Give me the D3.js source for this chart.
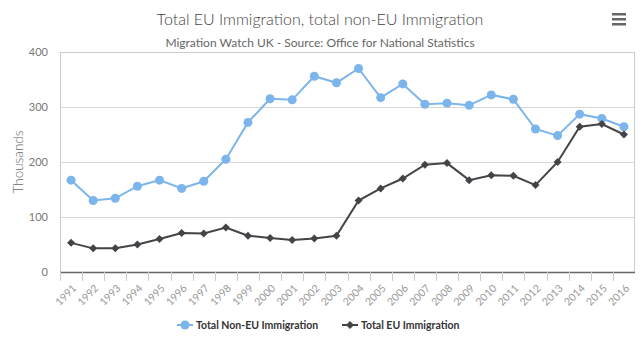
<!DOCTYPE html>
<html>
<head>
<meta charset="utf-8">
<script src="https://cdn.jsdelivr.net/npm/d3@7"></script>
<style>
  body { margin: 0; background: #fff; }
  svg { font-family: Lato, "Open Sans", sans-serif; }
</style>
</head>
<body>
<div id="chart"></div>
<script>
// data
var years = ["1991", "1992", "1993", "1994", "1995", "1996", "1997", "1998", "1999", "2000",
  "2001", "2002", "2003", "2004", "2005", "2006", "2007", "2008", "2009", "2010",
  "2011", "2012", "2013", "2014", "2015", "2016"];
var nonEu = [167, 130, 134, 156, 167, 152, 165, 205, 272, 315,
  313, 356, 344, 370, 317, 342, 305, 307, 303, 322,
  314, 260, 248, 287, 279, 264];
var eu = [53, 43, 43, 50, 60, 71, 70, 81, 66, 62,
  58, 61, 66, 130, 152, 170, 195, 198, 167, 176,
  175, 158, 200, 264, 269, 250];
var yTicks = [0, 100, 200, 300, 400];

var series = [
  { name: "Total Non-EU Immigration", values: nonEu, color: "#7cb5ec", symbol: d3.symbolCircle, size: 64, rot: 0 },
  { name: "Total EU Immigration", values: eu, color: "#434348", symbol: d3.symbolSquare, size: 32, rot: 45 }
];

var width = 640, height = 344;
var margin = { top: 52, right: 5, bottom: 72, left: 60 };
var w = width - margin.left - margin.right,
  h = height - margin.top - margin.bottom;

var svg = d3.select("#chart").append("svg")
  .attr("width", width)
  .attr("height", height);

// titles
svg.append("text")
  .attr("x", 320).attr("y", 25)
  .attr("text-anchor", "middle")
  .style("font-size", "16px")
  .style("font-weight", 300)
  .style("fill", "#444")
  .text("Total EU Immigration, total non-EU Immigration");

svg.append("text")
  .attr("x", 320).attr("y", 47)
  .attr("text-anchor", "middle")
  .style("font-size", "12px")
  .style("fill", "#666")
  .text("Migration Watch UK - Source: Office for National Statistics");

// hamburger menu
var menu = svg.append("g").attr("transform", "translate(612,13)");
[0, 5, 10].forEach(function (dy) {
  menu.append("rect").attr("x", 0).attr("y", dy).attr("width", 14).attr("height", 2.5).attr("fill", "#666");
});

var g = svg.append("g")
  .attr("transform", "translate(" + margin.left + "," + margin.top + ")");

var x = d3.scaleBand().domain(years).range([0, w]);
var y = d3.scaleLinear().domain([0, 400]).range([h, 0]);

// grid
g.append("g")
  .selectAll("line")
  .data(yTicks.slice(1, -1))
  .enter().append("line")
  .attr("x1", 0).attr("x2", w)
  .attr("y1", function (d) { return y(d) + 0.5; })
  .attr("y2", function (d) { return y(d) + 0.5; })
  .attr("stroke", "#d8d8d8");

// plot border
g.append("rect")
  .attr("x", 0.5).attr("y", 0.5)
  .attr("width", w - 1).attr("height", h)
  .attr("fill", "none")
  .attr("stroke", "#cccccc");

// y axis labels
g.append("g")
  .selectAll("text")
  .data(yTicks)
  .enter().append("text")
  .attr("x", -12)
  .attr("y", function (d) { return y(d) + 4; })
  .attr("text-anchor", "end")
  .style("font-size", "11px")
  .style("fill", "#777")
  .text(function (d) { return d; });

svg.append("text")
  .attr("transform", "translate(23," + (margin.top + h / 2) + ") rotate(-90)")
  .attr("text-anchor", "middle")
  .style("font-size", "13.5px")
  .style("font-weight", 300)
  .style("fill", "#666")
  .text("Thousands");

// x axis
var xAxis = g.append("g")
  .attr("transform", "translate(0," + h + ")");
xAxis.append("line")
  .attr("x1", 0).attr("x2", w)
  .attr("y1", 0.5).attr("y2", 0.5)
  .attr("stroke", "#666").attr("stroke-width", 1.5);
xAxis.selectAll("line.tick")
  .data(years)
  .enter().append("line")
  .attr("class", "tick")
  .attr("x1", function (d) { return Math.round(x(d)) + 0.5; })
  .attr("x2", function (d) { return Math.round(x(d)) + 0.5; })
  .attr("y1", 0).attr("y2", 9)
  .attr("stroke", "#ccc");
xAxis.selectAll("text")
  .data(years)
  .enter().append("text")
  .attr("transform", function (d) {
    return "translate(" + (x(d) + x.bandwidth() / 2 + 6) + ",17) rotate(-45)";
  })
  .attr("text-anchor", "end")
  .style("font-size", "10.5px")
  .style("fill", "#999")
  .text(function (d) { return d; });

// lines + markers
var line = d3.line()
  .x(function (d, i) { return x(years[i]) + x.bandwidth() / 2; })
  .y(function (d) { return y(d); });

series.forEach(function (s) {
  g.append("path")
    .datum(s.values)
    .attr("d", line)
    .attr("fill", "none")
    .attr("stroke", s.color)
    .attr("stroke-width", 2);
  g.selectAll(null)
    .data(s.values)
    .enter().append("path")
    .attr("d", d3.symbol().type(s.symbol).size(s.size))
    .attr("transform", function (d, i) {
      return "translate(" + (x(years[i]) + x.bandwidth() / 2) + "," + y(d) + ") rotate(" + s.rot + ")";
    })
    .attr("fill", s.color);
});

// legend
var legendX = [177, 342];
series.forEach(function (s, i) {
  var lg = svg.append("g").attr("transform", "translate(" + legendX[i] + ",325)");
  lg.append("line").attr("x1", 0).attr("x2", 16).attr("stroke", s.color).attr("stroke-width", 2);
  lg.append("path")
    .attr("d", d3.symbol().type(s.symbol).size(s.size))
    .attr("transform", "translate(8,0) rotate(" + s.rot + ")")
    .attr("fill", s.color);
  lg.append("text")
    .attr("x", 19).attr("y", 4)
    .style("font-size", "10.5px")
    .style("font-weight", "bold")
    .style("fill", "#333")
    .text(s.name);
});
</script>
</body>
</html>
